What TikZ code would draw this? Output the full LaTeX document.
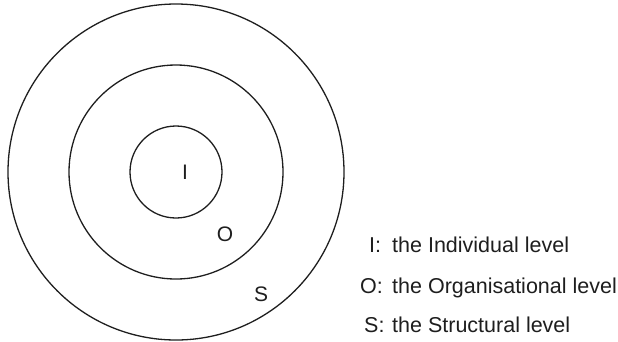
\documentclass[tikz,border=0pt]{standalone}
\usepackage{fontspec}
\setmainfont{Liberation Sans}
\usetikzlibrary{positioning}
\definecolor{inkgrey}{RGB}{30, 30, 30}

\begin{document}
\begin{tikzpicture}[
    x=1pt, y=-1pt,
    ring/.style={circle, draw=inkgrey, line width=1.3pt, inner sep=0pt},
    lvlletter/.style={font=\fontsize{21}{24}\selectfont, text=inkgrey, inner sep=0pt},
    keytxt/.style={font=\fontsize{21.5}{24}\selectfont, text=inkgrey, inner sep=0pt, anchor=base west},
    desctxt/.style={font=\fontsize{21.5}{24}\selectfont, text=inkgrey, inner sep=0pt, anchor=base west},
]
\useasboundingbox (0,0) rectangle (618,341);

% concentric levels
\node[ring, minimum size=336pt] (struct) at (176,172) {};
\node[ring, minimum size=214pt] (organ)  at (176,172) {};
\node[ring, minimum size=92pt]  (indiv)  at (176,172) {};

\node[lvlletter] (lI) at (185,172.5) {I};
\node[lvlletter] (lO) at (225,234.5) {O};
\node[lvlletter] (lS) at (261,294.5) {S};

% legend
\node[keytxt]  (kI) at (369,252) {I:};
\node[desctxt] (dI) at (392,252) {the Individual level};
\node[keytxt]  (kO) at (360,293) {O:};
\node[desctxt] (dO) at (392,293) {the Organisational level};
\node[keytxt]  (kS) at (364,332) {S:};
\node[desctxt] (dS) at (392,332) {the Structural level};

\end{tikzpicture}
\end{document}
